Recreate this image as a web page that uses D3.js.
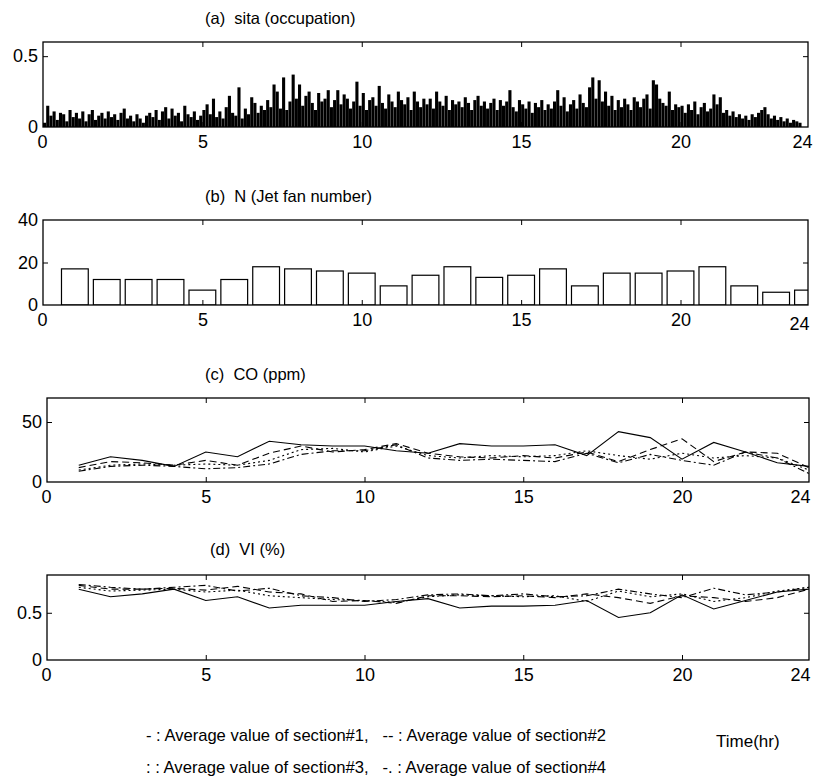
<!DOCTYPE html>
<html>
<head>
<meta charset="utf-8">
<script src="https://cdn.jsdelivr.net/npm/d3@7/dist/d3.min.js"></script>
<style>
  html, body { margin: 0; padding: 0; background: #fff; }
  svg { display: block; }
  text { font-family: "Liberation Sans", Arial, Helvetica, sans-serif; fill: #000; }
</style>
</head>
<body>
<svg id="chart" width="813" height="779"></svg>
<script>
// ---------------- DATA ----------------
const hours = d3.range(1, 25);
const xTickValues = [0, 5, 10, 15, 20, 24];

// (a) sita (occupation): 10 samples per hour (6-minute steps), hour 0 .. 23
const sita = [
  0.03,0.15,0.08,0.11,0.05,0.10,0.09,0.04,0.12,0.07,
  0.10,0.06,0.11,0.04,0.09,0.12,0.05,0.08,0.10,0.06,
  0.11,0.07,0.09,0.05,0.10,0.13,0.06,0.08,0.04,0.09,
  0.06,0.03,0.08,0.10,0.07,0.12,0.05,0.11,0.14,0.06,
  0.13,0.08,0.10,0.04,0.15,0.09,0.07,0.11,0.05,0.08,
  0.12,0.16,0.09,0.20,0.07,0.11,0.06,0.14,0.22,0.10,
  0.08,0.28,0.06,0.13,0.09,0.21,0.17,0.10,0.15,0.12,
  0.19,0.14,0.30,0.25,0.13,0.35,0.12,0.18,0.37,0.20,
  0.30,0.15,0.22,0.25,0.17,0.12,0.24,0.18,0.20,0.26,
  0.14,0.19,0.26,0.16,0.23,0.20,0.13,0.18,0.32,0.15,
  0.24,0.12,0.19,0.21,0.15,0.29,0.17,0.13,0.23,0.18,
  0.14,0.25,0.19,0.16,0.21,0.12,0.25,0.18,0.14,0.20,
  0.16,0.20,0.13,0.25,0.18,0.15,0.22,0.12,0.19,0.16,
  0.18,0.14,0.21,0.17,0.12,0.19,0.22,0.15,0.18,0.13,
  0.17,0.20,0.12,0.19,0.15,0.18,0.26,0.14,0.11,0.19,
  0.16,0.13,0.18,0.10,0.17,0.14,0.19,0.12,0.16,0.13,
  0.18,0.26,0.15,0.21,0.11,0.16,0.19,0.13,0.23,0.17,
  0.14,0.28,0.35,0.20,0.33,0.18,0.25,0.15,0.22,0.12,
  0.19,0.14,0.20,0.16,0.12,0.21,0.18,0.14,0.20,0.23,
  0.13,0.33,0.30,0.20,0.17,0.15,0.25,0.12,0.16,0.14,
  0.15,0.10,0.16,0.12,0.18,0.09,0.14,0.17,0.11,0.13,
  0.23,0.16,0.21,0.10,0.12,0.08,0.11,0.07,0.09,0.06,
  0.08,0.05,0.09,0.07,0.10,0.12,0.14,0.09,0.06,0.08,
  0.05,0.07,0.04,0.06,0.03,0.05,0.04,0.03,0.00,0.00
];
const sitaStep = 0.1;

// (b) N (Jet fan number), hours 1..24
const jetFan = [17,12,12,12,7,12,18,17,16,15,9,14,18,13,14,17,9,15,15,16,18,9,6,7];

// (c) CO (ppm), hours 1..24, sections #1..#4
const co1 = [14,21,18,13,25,21,34,31,30,30,26,24,32,30,30,31,22,42,37,19,33,25,16,13];
const co2 = [12,17,16,14,18,14,24,30,25,27,32,24,21,20,22,20,25,17,27,36,17,25,24,12];
const co3 = [10,14,15,14,15,14,18,27,28,25,30,22,20,22,21,22,26,22,19,24,20,22,20,10];
const co4 = [9,13,14,13,11,12,15,23,26,26,31,20,18,19,18,17,24,16,23,18,14,25,20,7];

// (d) VI (%), hours 1..24, sections #1..#4
const vi1 = [0.75,0.67,0.70,0.75,0.63,0.67,0.55,0.58,0.58,0.58,0.62,0.65,0.55,0.57,0.57,0.58,0.63,0.45,0.50,0.69,0.54,0.63,0.72,0.75];
const vi2 = [0.79,0.75,0.75,0.76,0.74,0.78,0.72,0.70,0.62,0.63,0.60,0.68,0.68,0.67,0.68,0.66,0.70,0.66,0.60,0.68,0.66,0.62,0.66,0.75];
const vi3 = [0.77,0.73,0.74,0.75,0.72,0.74,0.68,0.66,0.64,0.63,0.61,0.67,0.69,0.68,0.67,0.68,0.62,0.73,0.67,0.70,0.62,0.66,0.73,0.77];
const vi4 = [0.80,0.77,0.75,0.77,0.79,0.73,0.76,0.68,0.66,0.62,0.64,0.69,0.70,0.68,0.70,0.67,0.68,0.75,0.70,0.66,0.76,0.69,0.72,0.77];

const titles = ["(a)  sita (occupation)", "(b)  N (Jet fan number)", "(c)  CO (ppm)", "(d)  VI (%)"];
const legendLines = [
  "- : Average value of section#1,   -- : Average value of section#2",
  ": : Average value of section#3,   -. : Average value of section#4"
];
const xLabel = "Time(hr)";

// ---------------- DRAWING ----------------
const svg = d3.select("#chart");
const dashes = [null, "7,4", "2,3", "7,3,2,3"];

function makePanel(o) {
  const x = d3.scaleLinear().domain([0, 24]).range([o.left, o.right]);
  const y = d3.scaleLinear().domain(o.yDomain).range([o.bottom, o.top]);
  const g = svg.append("g");
  const clipId = "clip" + o.id;
  svg.append("clipPath").attr("id", clipId).append("rect")
    .attr("x", o.left).attr("y", o.top - 2)
    .attr("width", o.right - o.left).attr("height", o.bottom - o.top + 2);
  const plot = g.append("g").attr("clip-path", `url(#${clipId})`);

  g.append("text").attr("x", o.titleX).attr("y", o.titleY)
    .attr("font-size", 16.5).style("white-space", "pre").text(o.title);

  const bottomAxis = g.append("g").attr("transform", `translate(0,${o.bottom})`)
    .call(d3.axisBottom(x).tickValues(xTickValues).tickSize(-5).tickPadding(8));
  const topAxis = g.append("g").attr("transform", `translate(0,${o.top})`)
    .call(d3.axisTop(x).tickValues([5, 10, 15, 20]).tickSize(-5).tickFormat(""));
  const leftAxis = g.append("g").attr("transform", `translate(${o.left},0)`)
    .call(d3.axisLeft(y).tickValues(o.yTicks).tickSize(-5).tickPadding(5).tickFormat(o.fmt));
  const rightAxis = g.append("g").attr("transform", `translate(${o.right},0)`)
    .call(d3.axisRight(y).tickValues(o.yTicks).tickSize(-5).tickFormat(""));
  [bottomAxis, topAxis, leftAxis, rightAxis].forEach(a => {
    a.select(".domain").remove();
    a.selectAll("line").attr("stroke", "#000").attr("stroke-width", 1);
    a.selectAll("text").attr("font-size", 18).attr("font-family", "Liberation Sans, Arial, sans-serif").attr("fill", "#000");
  });
  bottomAxis.selectAll(".tick").filter(d => d === 0 || d === 24).select("line").remove();
  leftAxis.selectAll(".tick").filter(d => d === o.yDomain[0] || d === o.yDomain[1]).select("line").remove();
  rightAxis.selectAll(".tick").filter(d => d === o.yDomain[0] || d === o.yDomain[1]).select("line").remove();
  bottomAxis.selectAll(".tick").filter(d => d === 24).select("text")
    .attr("text-anchor", "middle").attr("x", o.lab24dx).attr("dy", o.lab24dy);
  bottomAxis.selectAll(".tick").filter(d => d === 0).select("text").attr("x", -1);

  g.append("rect").attr("x", o.left).attr("y", o.top)
    .attr("width", o.right - o.left).attr("height", o.bottom - o.top)
    .attr("fill", "none").attr("stroke", "#000").attr("stroke-width", 1.3);
  return { x, y, plot };
}

// (a)
const pa = makePanel({ id: "a", left: 43, right: 808, top: 42, bottom: 127, yDomain: [0, 0.6], yTicks: [0, 0.5],
  fmt: d => d === 0 ? "0" : d3.format(".1f")(d), title: titles[0], titleX: 205, titleY: 24, lab24dx: -6, lab24dy: "0.71em" });
pa.plot.selectAll("rect.sita").data(sita).join("rect").attr("class", "sita")
  .attr("x", (d, i) => pa.x(i * sitaStep))
  .attr("width", pa.x(sitaStep * 0.97) - pa.x(0))
  .attr("y", d => pa.y(d))
  .attr("height", d => pa.y(0) - pa.y(d))
  .attr("fill", "#000");

// (b)
const pb = makePanel({ id: "b", left: 43, right: 808, top: 220, bottom: 305, yDomain: [0, 40], yTicks: [0, 20, 40],
  fmt: d3.format("d"), title: titles[1], titleX: 205, titleY: 202, lab24dx: -9, lab24dy: "0.95em" });
pb.plot.selectAll("rect.jf").data(jetFan).join("rect").attr("class", "jf")
  .attr("x", (d, i) => pb.x(hours[i] - 0.42))
  .attr("width", pb.x(0.84) - pb.x(0))
  .attr("y", d => pb.y(d))
  .attr("height", d => pb.y(0) - pb.y(d))
  .attr("fill", "#fff").attr("stroke", "#000").attr("stroke-width", 1.2);

// (c)
const pc = makePanel({ id: "c", left: 47, right: 809, top: 398, bottom: 482, yDomain: [0, 70], yTicks: [0, 50],
  fmt: d3.format("d"), title: titles[2], titleX: 205, titleY: 380, lab24dx: -9, lab24dy: "0.71em" });
[co1, co2, co3, co4].forEach((s, k) => {
  pc.plot.append("path").datum(s)
    .attr("d", d3.line().x((d, i) => pc.x(hours[i])).y(d => pc.y(d)))
    .attr("fill", "none").attr("stroke", "#000").attr("stroke-width", 1.1)
    .attr("stroke-dasharray", dashes[k]);
});

// (d)
const pd = makePanel({ id: "d", left: 47, right: 809, top: 575, bottom: 660, yDomain: [0, 0.9], yTicks: [0, 0.5],
  fmt: d => d === 0 ? "0" : d3.format(".1f")(d), title: titles[3], titleX: 210, titleY: 555, lab24dx: -9, lab24dy: "0.71em" });
[vi1, vi2, vi3, vi4].forEach((s, k) => {
  pd.plot.append("path").datum(s)
    .attr("d", d3.line().x((d, i) => pd.x(hours[i])).y(d => pd.y(d)))
    .attr("fill", "none").attr("stroke", "#000").attr("stroke-width", 1.1)
    .attr("stroke-dasharray", dashes[k]);
});

// legend + x label
svg.append("text").attr("x", 146).attr("y", 741).attr("font-size", 17)
  .style("white-space", "pre").attr("textLength", 460).attr("lengthAdjust", "spacingAndGlyphs").text(legendLines[0]);
svg.append("text").attr("x", 146).attr("y", 773).attr("font-size", 17)
  .style("white-space", "pre").attr("textLength", 460).attr("lengthAdjust", "spacingAndGlyphs").text(legendLines[1]);
svg.append("text").attr("x", 716).attr("y", 747).attr("font-size", 17).text(xLabel);
</script>
</body>
</html>
